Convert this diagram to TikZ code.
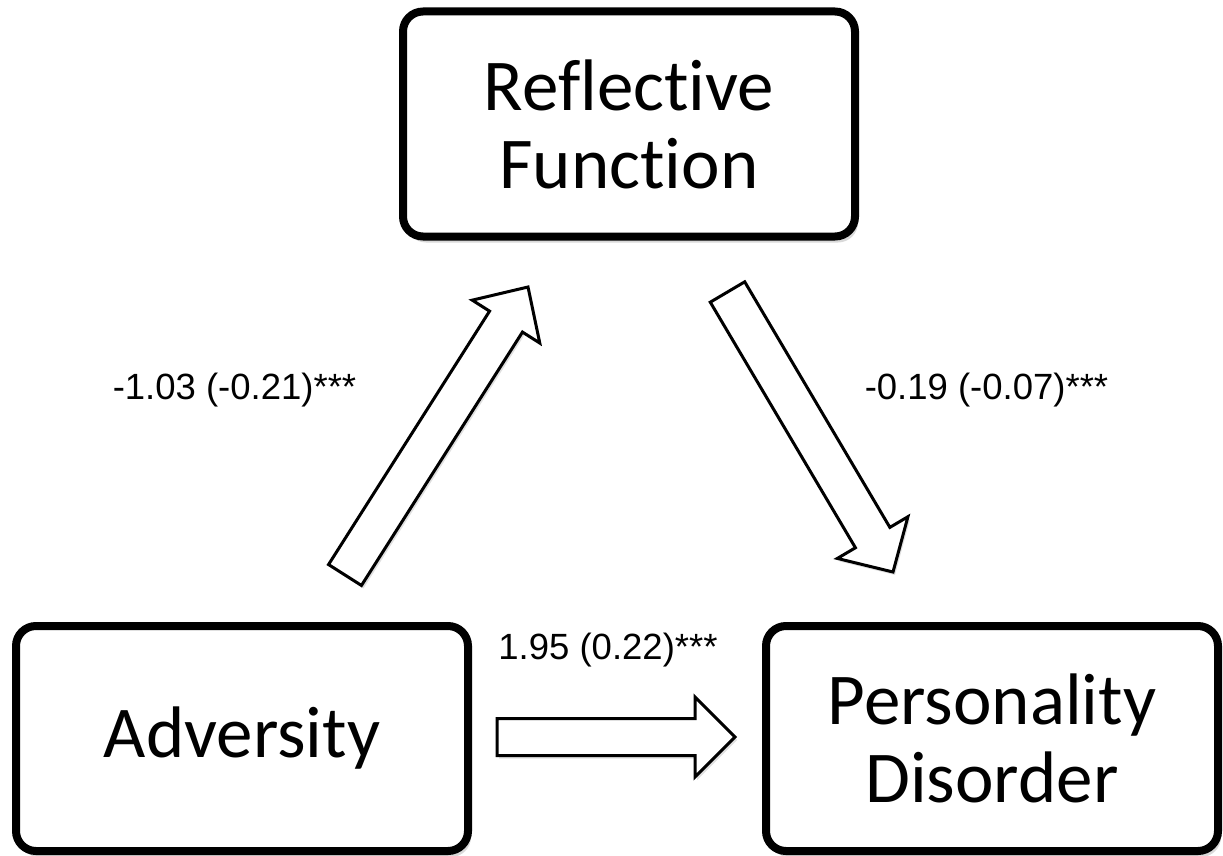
\documentclass[tikz,border=0pt]{standalone}
\usepackage{fontspec}
\setmainfont[Ligatures=NoCommon]{Carlito}
\newfontfamily\labelfont{Liberation Sans}
\usetikzlibrary{calc,shadows}
\tikzset{
  box/.style={draw=black, line width=8pt, rounded corners=20pt, fill=white,
    minimum width=452pt, minimum height=225pt, align=center, inner sep=0pt,
    font=\fontsize{73}{78}\selectfont,
    drop shadow={shadow xshift=3pt, shadow yshift=-6pt, opacity=0.15, fill=black}},
  blockarrowstyle/.style={draw=black, line width=3pt, fill=white, line join=miter,
    drop shadow={shadow xshift=2pt, shadow yshift=-3pt, opacity=0.12, fill=black}},
  coef/.style={font=\labelfont\fontsize{36.5}{42}\selectfont, inner sep=0pt}
}
% #1 start, #2 tip, #3 half shaft width, #4 half head width, #5 head length
\newcommand\bArrow[5]{%
  \coordinate (#1j) at ($(#2)!#5pt!(#1)$);
  \draw[blockarrowstyle]
    ($(#1)!#3pt!90:(#2)$) -- ($(#1j)!#3pt!90:(#2)$) -- ($(#1j)!#4pt!90:(#2)$)
    -- (#2) -- ($(#1j)!#4pt!-90:(#2)$) -- ($(#1j)!#3pt!-90:(#2)$)
    -- ($(#1)!#3pt!-90:(#2)$) -- cycle;}
\begin{document}
\begin{tikzpicture}[x=1pt,y=-1pt]
\useasboundingbox (0,0) rectangle (1223,856);
\fill[white] (0,0) rectangle (1223,856);

\node[box] (rf) at (629,124) {Reflective\\Function};
\node[box] (adv) at (242,738.5) {Adversity};
\node[box] (pd) at (992,738.5) {Personality\\Disorder};

\coordinate (upT) at (345,575);
\coordinate (upH) at (528,287);
\coordinate (dnT) at (727.5,292);
\coordinate (dnH) at (893,572);
\coordinate (hzT) at (497,737);
\coordinate (hzH) at (735,737);

\bArrow{upT}{upH}{19.5}{40}{41}
\bArrow{dnT}{dnH}{20}{41}{40}
\bArrow{hzT}{hzH}{18.5}{40}{40}

\node[coef] (c1) at (234.5,390) {-1.03 (-0.21)***};
\node[coef] (c2) at (986.5,390) {-0.19 (-0.07)***};
\node[coef] (c3) at (608,650) {1.95 (0.22)***};
\end{tikzpicture}
\end{document}
